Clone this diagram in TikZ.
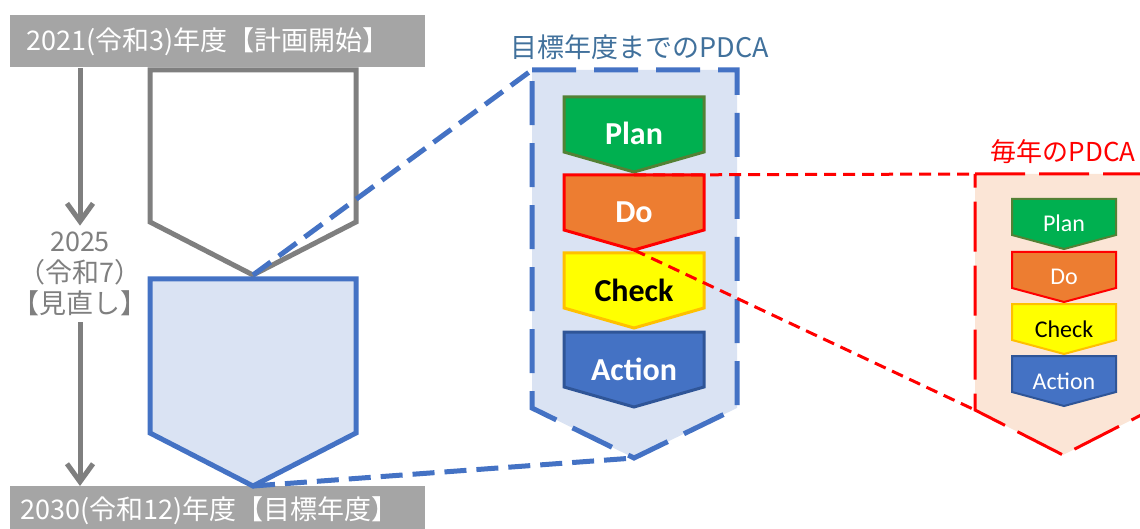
\documentclass[tikz,border=0pt]{standalone}
\usepackage{fontspec}
\newfontfamily\jpfont{Noto Sans CJK JP}
\newfontfamily\pdcafont{Carlito}
\usetikzlibrary{arrows.meta}

\definecolor{bannergray}{HTML}{A5A5A5}
\definecolor{linegray}{HTML}{7F7F7F}
\definecolor{goalblue}{HTML}{4472C4}
\definecolor{goalfill}{HTML}{DAE3F3}
\definecolor{titleblue}{HTML}{41719C}
\definecolor{yearred}{HTML}{FF0000}
\definecolor{yearfill}{HTML}{FBE5D6}
\definecolor{planfill}{HTML}{00B050}
\definecolor{plandraw}{HTML}{538135}
\definecolor{dofill}{HTML}{ED7D31}
\definecolor{dodraw}{HTML}{FF0000}
\definecolor{checkfill}{HTML}{FFFF00}
\definecolor{checkdraw}{HTML}{FFC000}
\definecolor{actfill}{HTML}{4472C4}
\definecolor{actdraw}{HTML}{2F5597}

\tikzset{
	banner/.style={fill=bannergray, text=white, anchor=north west, inner xsep=8pt,
		text width=191.5pt, align=left, font=\jpfont\fontsize{13.5}{16}\selectfont},
	timeline/.style={draw=linegray, line width=2.5pt, -{Straight Barb[length=9pt,width=13pt]}},
	review/.style={text=linegray, align=center, inner sep=3pt,
		font=\jpfont\fontsize{13.5}{15.5}\selectfont},
	zoom blue/.style={draw=goalblue, line width=2.5pt, dash pattern=on 11pt off 5pt},
	zoom red/.style={draw=yearred, line width=1.5pt, dash pattern=on 6pt off 3.5pt},
	big step/.style={line width=1.5pt, line join=miter},
	small step/.style={line width=1pt, line join=miter},
	big label/.style={anchor=base, font=\pdcafont\bfseries\fontsize{16}{18}\selectfont},
	small label/.style={anchor=base, font=\pdcafont\fontsize{12}{14}\selectfont}
}

\begin{document}
\begin{tikzpicture}[x=0.5pt, y=-0.5pt]

	\path[use as bounding box, clip] (0,0) rectangle (1140,529);

	% Banners
	\node[banner, minimum height=26pt] (start) at (10,15) {2021(令和3)年度【計画開始】};
	\node[banner, minimum height=24pt, inner xsep=5pt, text width=197.5pt] (goal) at (10,486) {2030(令和12)年度【目標年度】};

	% Time line
	\node[review] (review) at (80,274) {2025\\（令和7）\\【見直し】};
	\draw[timeline] (start.south -| review.north) -- (review.north);
	\draw[timeline] (review.south) -- (goal.north -| review.south);

	% Plan period
	\draw[draw=linegray, fill=white, line width=2.5pt] (150,70) -- (356,70) -- (356,222)
		-- (253,275) coordinate (gray apex) -- (150,222) -- cycle;
	\draw[draw=goalblue, fill=goalfill, line width=2.5pt] (150,279) -- (356,279) -- (356,433)
		-- (253,486) coordinate (blue apex) -- (150,433) -- cycle;

	% PDCA up to the target year
	\node[text=titleblue, font=\jpfont\fontsize{13.5}{16}\selectfont] (goal title) at (640,47) {目標年度までのPDCA};
	\draw[draw=goalblue, fill=goalfill, line width=2.5pt, dash pattern=on 22pt off 9pt]
		(532,70) coordinate (goal corner) -- (737,70) -- (737,408)
		-- (634,458) coordinate (goal apex) -- (532,408) -- cycle;
	\draw[zoom blue] (gray apex) -- (goal corner);
	\draw[zoom blue] (blue apex) -- (goal apex);

	\foreach \y/\lbl/\fc/\dc/\tc in {97/Plan/planfill/plandraw/white, 175/Do/dofill/dodraw/white,
		253/Check/checkfill/checkdraw/black, 332/Action/actfill/actdraw/white} {
		\draw[big step, fill=\fc, draw=\dc] (634,\y) coordinate (\lbl-top) -- (704,\y) -- (704,\y+55)
			-- (634,\y+75) coordinate (\lbl-apex) -- (564,\y+55) -- (564,\y) -- cycle;
		\node[big label, text=\tc] (\lbl-label) at (634,\y+48) {\lbl};
	}

	% PDCA of every year
	\node[text=yearred, anchor=east, inner xsep=0pt, font=\jpfont\fontsize{13}{16}\selectfont] (year title) at (1136,152) {毎年のPDCA};
	\draw[draw=yearred, fill=yearfill, line width=1.5pt, dash pattern=on 25pt off 7pt]
		(975,174) coordinate (year corner) -- (1151,174) -- (1151,410)
		-- (1063,455) -- (975,410) coordinate (year low) -- cycle;

	\foreach \y/\lbl/\fc/\dc/\tc in {199/Plan/planfill/plandraw/white, 252/Do/dofill/dodraw/white,
		304/Check/checkfill/checkdraw/black, 356/Action/actfill/actdraw/white} {
		\draw[small step, fill=\fc, draw=\dc] (1064,\y) -- (1116,\y) -- (1116,\y+36)
			-- (1064,\y+50) -- (1012,\y+36) -- (1012,\y) -- cycle;
		\node[small label, text=\tc] (year-\lbl) at (1064,\y+33) {\lbl};
	}

	\draw[zoom red] (Do-top) -- (year corner);
	\draw[zoom red] (Do-apex) -- (year low);

\end{tikzpicture}
\end{document}
